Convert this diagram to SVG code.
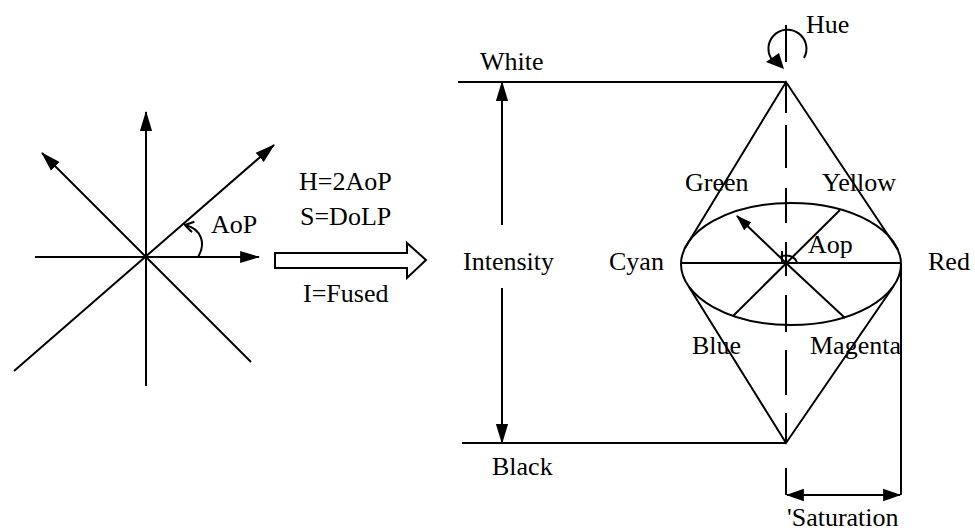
<svg xmlns="http://www.w3.org/2000/svg" width="975" height="532" viewBox="0 0 975 532">
<style>
.ln{fill:none;stroke:#000;stroke-width:2}
text{font-family:"Liberation Serif","Times New Roman",serif;font-size:26px;fill:#000}
</style>
<defs>
<marker id="ah" markerUnits="userSpaceOnUse" markerWidth="20" markerHeight="14" viewBox="0 0 18 12" refX="17" refY="6" orient="auto">
<path d="M0,0.5 L18,6 L0,11.5 Z" fill="#000"/>
</marker>
<marker id="ahs" markerUnits="userSpaceOnUse" markerWidth="18" markerHeight="14" viewBox="0 0 16 12" refX="15" refY="6" orient="auto-start-reverse">
<path d="M0,0.5 L16,6 L0,11.5 Z" fill="#000"/>
</marker>
<marker id="ahsm" markerUnits="userSpaceOnUse" markerWidth="16" markerHeight="12" viewBox="0 0 15 10" refX="14" refY="5" orient="auto">
<path d="M0,0 L15,5 L0,10 Z" fill="#000"/>
</marker>
<marker id="open" markerUnits="userSpaceOnUse" markerWidth="12" markerHeight="12" viewBox="0 0 10 10" refX="9" refY="5" orient="auto">
<path d="M2,0.5 L9,5 L2,9.5" fill="none" stroke="#000" stroke-width="1.8"/>
</marker>
</defs>

<g id="polar-star">
<path class="ln" d="M146,386 L146,112" marker-end="url(#ah)"/>
<path class="ln" d="M35,257 L259,257" marker-end="url(#ah)"/>
<path class="ln" d="M251,362 L42,153" marker-end="url(#ah)"/>
<path class="ln" d="M14,371 L274,145" marker-end="url(#ah)"/>
<path class="ln" d="M198,257 C206,244 202,229 185,225" marker-end="url(#open)"/>
<text x="211" y="233">AoP</text>
</g>

<g id="transform">
<text x="299" y="190">H=2AoP</text>
<text x="300" y="225">S=DoLP</text>
<path class="ln" d="M275,253 L407,253 L407,243 L426,260 L407,278 L407,268 L275,268 Z"/>
<text x="303" y="302">I=Fused</text>
</g>

<g id="intensity">
<path class="ln" d="M458,82 L786,82"/>
<path class="ln" d="M462,443 L786,443"/>
<text x="480" y="70">White</text>
<text x="492" y="475">Black</text>
<text x="463" y="270">Intensity</text>
</g>

<g id="hsi-cone">
<ellipse class="ln" cx="791" cy="264" rx="110" ry="61"/>
<path class="ln" d="M685,248 L786,82 L898,250"/>
<path class="ln" d="M689,287 L786,443 L893,287"/>
<path class="ln" d="M681,263 L901,263"/>
<path class="ln" d="M733,316 L840,210"/>
<path class="ln" d="M845,318 L786,263"/>
<path class="ln" d="M786,263 L737,216" marker-end="url(#ahsm)"/>
<path class="ln" stroke-width="1.5" d="M797,263 A11,9 0 0 0 780,257"/>
<path class="ln" stroke-width="1.5" d="M782,251 L782,262"/>
<text x="609" y="270">Cyan</text>
<text x="928" y="270">Red</text>
<text x="685" y="191">Green</text>
<text x="822" y="191">Yellow</text>
<text x="808" y="253">Aop</text>
<text x="692" y="354">Blue</text>
<text x="810" y="354">Magenta</text>
</g>

<g id="hue">
<path class="ln" d="M786,25 L786,62"/>
<path class="ln" d="M804,58 A19,19 0 1 0 773,61"/>
<path d="M784,69 L766,62 L779,53 Z" fill="#000"/>
<text x="806" y="33">Hue</text>
</g>

<g id="saturation">
<path class="ln" d="M901,263 L901,495"/>
<text x="787" y="526">'Saturation</text>
</g>

<g id="connectors">
<path class="ln" d="M502,225 L502,82" marker-end="url(#ah)"/>
<path class="ln" d="M502,288 L502,443" marker-end="url(#ah)"/>
<path class="ln" d="M786,82 L786,113 M786,125 L786,168 M786,188 L786,223 M786,242 L786,276 M786,295 L786,332 M786,350 L786,395 M786,413 L786,443 M786,468 L786,495"/>
<path class="ln" d="M787,495 L900,495" marker-start="url(#ahs)" marker-end="url(#ahs)"/>
</g>
</svg>
